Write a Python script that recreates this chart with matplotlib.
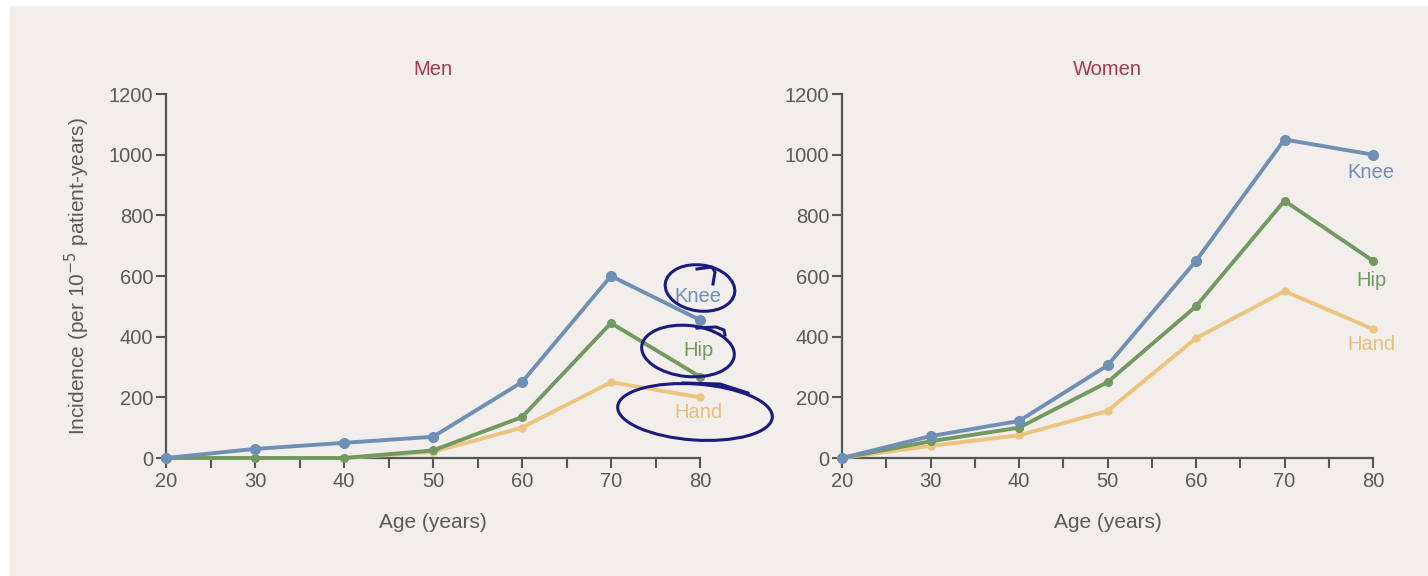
import matplotlib.pyplot as plt
import numpy as np
from matplotlib.patches import Ellipse, Rectangle
from matplotlib.transforms import Affine2D

plt.rcParams["font.family"] = ["Liberation Sans", "DejaVu Sans"]

ages = [20, 30, 40, 50, 60, 70, 80]

men_knee = [0, 30, 50, 70, 250, 600, 455]
men_hip = [0, 0, 0, 25, 135, 445, 268]
men_hand = [0, 0, 0, 20, 100, 250, 200]

women_knee = [0, 72, 122, 305, 650, 1050, 1000]
women_hip = [0, 55, 100, 250, 500, 848, 650]
women_hand = [0, 40, 75, 155, 395, 550, 425]

series_names = ["Knee", "Hip", "Hand"]
colors = {"Knee": "#6f8fb6", "Hip": "#72995f", "Hand": "#ecc47e"}
text_colors = {"Knee": "#6f8fb6", "Hip": "#72995f", "Hand": "#e8bf78"}

# label positions (data coords) next to the line ends
men_label_y = {"Knee": 534, "Hip": 356, "Hand": 150}
women_label_y = {"Knee": 940, "Hip": 585, "Hand": 375}

BG = "#f1eeeb"
AXIS_GREY = "#555555"
TEXT_GREY = "#5a5a5a"
TITLE_RED = "#a63a4c"

W, H = 1428, 576
fig = plt.figure(figsize=(W / 100, H / 100), dpi=100, facecolor="white")
fig.patches.append(Rectangle((10 / W, 0), 1, 1 - 6 / H, transform=fig.transFigure,
                             facecolor=BG, edgecolor="none", zorder=-10))

ax_men = fig.add_axes([166 / W, 1 - 458 / H, 534 / W, 364 / H])
ax_women = fig.add_axes([842 / W, 1 - 458 / H, 531 / W, 364 / H])


def style_axis(ax, title):
    ax.set_facecolor("none")
    ax.set_xlim(20, 80)
    ax.set_ylim(0, 1200)
    for s in ["top", "right"]:
        ax.spines[s].set_visible(False)
    for s in ["left", "bottom"]:
        ax.spines[s].set_color(AXIS_GREY)
        ax.spines[s].set_linewidth(1.6)
    ax.set_xticks(np.arange(20, 81, 10))
    ax.set_xticks(np.arange(25, 80, 10), minor=True)
    ax.set_yticks(np.arange(0, 1201, 200))
    ax.tick_params(axis="both", which="both", direction="out", length=7, width=1.5,
                   color=AXIS_GREY, labelcolor=TEXT_GREY, labelsize=14.5)
    ax.tick_params(axis="y", pad=2)
    ax.tick_params(axis="x", pad=3)
    ax.set_title(title, color=TITLE_RED, fontsize=14.5, pad=14)
    ax.set_xlabel("Age (years)", color=TEXT_GREY, fontsize=15, labelpad=16)


def draw_lines(ax, knee, hip, hand, label_y):
    data = {"Knee": knee, "Hip": hip, "Hand": hand}
    sizes = {"Knee": 7, "Hip": 5.5, "Hand": 5}
    for name in ["Hand", "Hip", "Knee"]:
        ax.plot(ages, data[name], color=colors[name], lw=2.8, marker="o",
                ms=sizes[name], clip_on=False, zorder=3)
    for name in series_names:
        ax.text(79.8, label_y[name], name, color=text_colors[name], fontsize=14.5,
                ha="center", va="center", zorder=4)


style_axis(ax_men, "Men")
style_axis(ax_women, "Women")
draw_lines(ax_men, men_knee, men_hip, men_hand, men_label_y)
draw_lines(ax_women, women_knee, women_hip, women_hand, women_label_y)

ax_men.set_ylabel("Incidence (per 10$^{-5}$ patient-years)", color=TEXT_GREY,
                  fontsize=15, labelpad=12)

# hand-drawn pen circles around the men's labels (pixel coords, top-left origin)
pix = Affine2D().scale(1, -1).translate(0, H)
pen = "#1b1a7e"
for cx, cy, w, h, ang in [(700, 288, 70, 46, 8), (688, 351, 93, 51, 6), (695, 412, 155, 56, 4)]:
    fig.patches.append(Ellipse((cx, cy), w, h, angle=ang, transform=pix,
                               fill=False, edgecolor=pen, lw=2.2, zorder=10))
hooks = [([697, 712, 715, 713], [269, 267, 272, 284]),
         ([697, 716, 724, 725], [328, 327, 330, 335]),
         ([683, 720, 748], [383, 384, 393])]
for hx, hy in hooks:
    fig.lines.append(plt.Line2D(hx, hy, transform=pix, color=pen, lw=2.2, zorder=10))

fig.savefig("out.png", dpi=100, facecolor=fig.get_facecolor())
